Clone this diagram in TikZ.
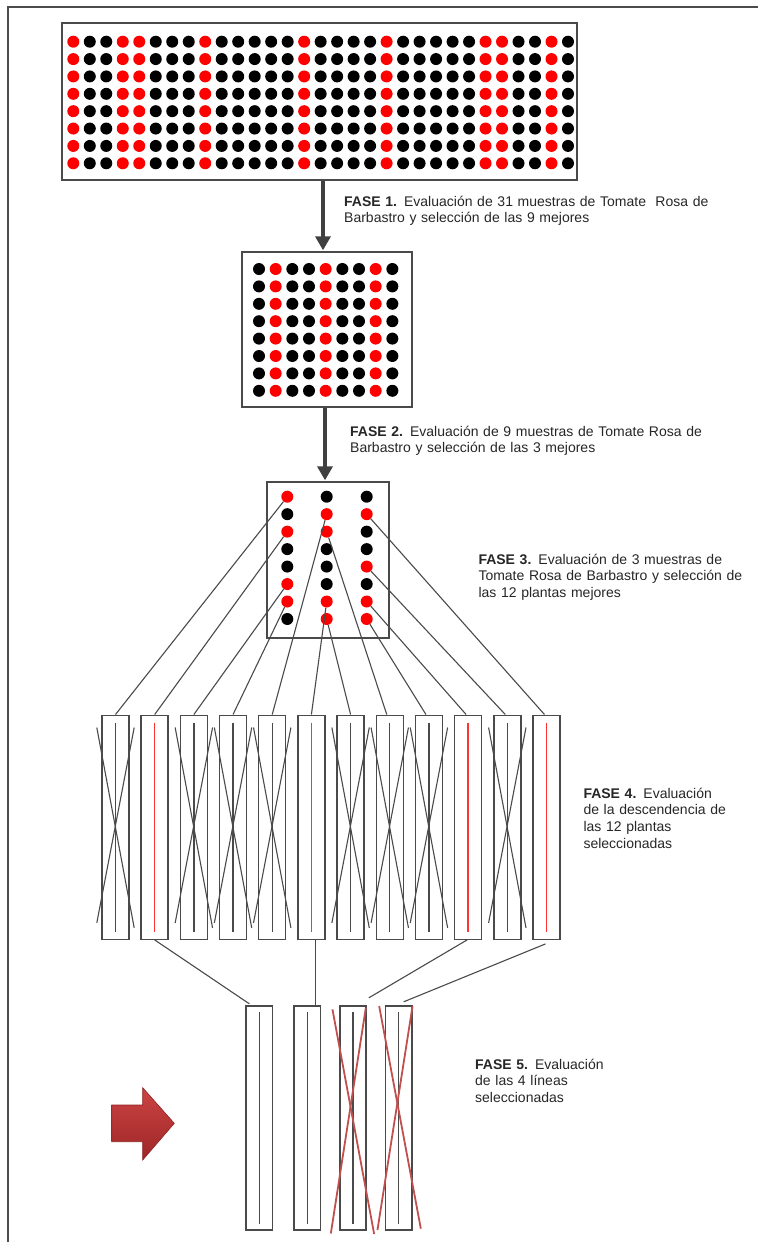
\documentclass[tikz,border=0pt]{standalone}
\usepackage{fontspec}
\setmainfont{Liberation Sans}
\usetikzlibrary{arrows.meta}
\definecolor{dotR}{HTML}{FF0000}
\definecolor{dotB}{HTML}{000000}
\definecolor{lineg}{HTML}{4A4A4A}
\definecolor{crossred}{HTML}{C0504D}
\definecolor{innerr}{HTML}{FF3333}
\definecolor{arrowtop}{HTML}{CC4444}
\definecolor{arrowbot}{HTML}{9E2626}
\definecolor{txt}{HTML}{262626}
\begin{document}
\begin{tikzpicture}[x=1pt,y=-1pt,
  dot/.style={circle,inner sep=0pt,minimum size=12pt},
  boxst/.style={draw=lineg,line width=1.4pt,inner sep=0pt,fill=none},
  strip/.style={draw=lineg,line width=1.4pt,inner sep=0pt,minimum width=27pt,minimum height=224pt},
  strip5/.style={draw=lineg,line width=1.4pt,inner sep=0pt,minimum width=26.3pt,minimum height=224pt},
  conn/.style={draw=lineg,line width=1.1pt},
  inner/.style={draw=lineg,line width=1.4pt},
  innerred/.style={draw=innerr,line width=1.4pt},
  xline/.style={draw=lineg,line width=1.1pt},
  xred/.style={draw=crossred,line width=1.8pt},
  bigarrow/.style={draw=black!75,line width=4pt,-{Triangle[width=15pt,length=14pt]}},
  label/.style={anchor=base west,inner sep=0pt,text width=420pt,align=left,font=\fontsize{14}{16.7}\selectfont,text=txt}
]
\useasboundingbox (0,0) rectangle (758,1242);
% page border
\draw[draw=black!70,line width=1.5pt] (8,1242) -- (8,7) -- (758,7);

% ---------- phase 1 grid ----------
\node[boxst,minimum width=515pt,minimum height=157pt] (box1) at (319.5,101.5) {};
\foreach \c [count=\i] in {R,B,B,R,R,B,B,B,R,B,B,B,B,B,R,B,B,B,B,R,B,B,B,B,B,R,R,B,B,R,B}
  \foreach \j in {1,...,8}
    \node[dot,fill=dot\c] (a\i-\j) at ({73.3+(\i-1)*16.49},{41.7+(\j-1)*17.37}) {};

% ---------- phase 2 grid ----------
\node[boxst,minimum width=170pt,minimum height=155pt] (box2) at (327,329.5) {};
\foreach \c [count=\i] in {B,R,B,B,R,B,B,R,B}
  \foreach \j in {1,...,8}
    \node[dot,fill=dot\c] (b\i-\j) at ({259+(\i-1)*16.67},{269+(\j-1)*17.4}) {};

% ---------- phase 3 ----------
\node[boxst,minimum width=122pt,minimum height=156pt] (box3) at (328,560) {};
\foreach \c [count=\j] in {R,B,R,B,B,R,R,B}
  \node[dot,fill=dot\c] (c1-\j) at (287.3,{496.7+(\j-1)*17.47}) {};
\foreach \c [count=\j] in {B,R,R,B,B,B,R,R}
  \node[dot,fill=dot\c] (c2-\j) at (326.7,{496.7+(\j-1)*17.47}) {};
\foreach \c [count=\j] in {B,R,B,B,R,B,R,R}
  \node[dot,fill=dot\c] (c3-\j) at (366.7,{496.7+(\j-1)*17.47}) {};

% phase arrows
\draw[bigarrow] ([shift={(3.5,0)}]box1.south) -- ([shift={(-4,-1)}]box2.north);
\draw[bigarrow] ([shift={(-2,0)}]box2.south) -- ([shift={(-3,-1)}]box3.north);

% ---------- phase 4 strips ----------
\foreach \i in {1,...,12}
  \node[strip] (r\i) at ({115.5+(\i-1)*39.18},827.2) {};
\foreach \i in {2,6,10,12}
  \draw[innerred] ([shift={(0,8)}]r\i.north) -- ([shift={(0,-8)}]r\i.south);
\foreach \i in {1,3,4,5,7,8,9,11}{
  \draw[inner] ([shift={(0,8)}]r\i.north) -- ([shift={(0,-8)}]r\i.south);
  \draw[xline] ([shift={(-4.5,13)}]r\i.north west) -- ([shift={(4.5,-12)}]r\i.south east);
  \draw[xline] ([shift={(4.5,13)}]r\i.north east) -- ([shift={(-4.5,-17)}]r\i.south west);
}

% connectors phase 3 -> phase 4
\draw[conn] (c1-1) -- (r1.north);
\draw[conn] (c1-3) -- (r2.north);
\draw[conn] (c1-6) -- (r3.north);
\draw[conn] (c1-7) -- (r4.north);
\draw[conn] (c2-2) -- (r5.north);
\draw[conn] (c2-7) -- (r6.north);
\draw[conn] (c2-8) -- (r7.north);
\draw[conn] (c2-3) -- ([shift={(-3,0)}]r8.north);
\draw[conn] (c3-8) -- ([shift={(-3,0)}]r9.north);
\draw[conn] (c3-7) -- ([shift={(-2,0)}]r10.north);
\draw[conn] (c3-5) -- ([shift={(-2,0)}]r11.north);
\draw[conn] (c3-2) -- ([shift={(-2,0)}]r12.north);

% ---------- phase 5 strips ----------
\foreach \i/\x in {1/259.2,2/307.2,3/353,4/398.7}{
  \node[strip5] (p\i) at (\x,1118) {};
  \draw[inner] ([shift={(0,7)}]p\i.north) -- ([shift={(0,-7)}]p\i.south);
}
\draw[xred] ([shift={(-6.7,4)}]p3.north west) -- ([shift={(7.3,3.3)}]p3.south east);
\draw[xred] ([shift={(-1,2.3)}]p3.north east) -- ([shift={(-8.3,2.7)}]p3.south west);
\draw[xred] ([shift={(-5.7,0.7)}]p4.north west) -- ([shift={(8.3,-2)}]p4.south east);
\draw[xred] ([shift={(0,0.7)}]p4.north east) -- ([shift={(-7.4,-0.7)}]p4.south west);

% connectors phase 4 -> phase 5
\draw[conn] (r2.south) -- ([shift={(4,-1.5)}]p1.north west);
\draw[conn] ([shift={(4,0)}]r6.south) -- ([shift={(4,0)}]r6.south |- p2.north);
\draw[conn] ([shift={(-1,0)}]r10.south) -- ([shift={(2,-7.5)}]p3.north east);
\draw[conn] ([shift={(-1,4)}]r12.south) -- ([shift={(5,-3.5)}]p4.north);

% ---------- red block arrow ----------
\path[top color=arrowtop,bottom color=arrowbot,draw=arrowbot!90!black,line width=0.6pt]
  (111.7,1105) -- (142.7,1105) -- (142.7,1087.7) -- (174.3,1123.3) -- (142.7,1160)
  -- (142.7,1141.7) -- (111.7,1141.7) -- cycle;

% ---------- labels ----------
\node[label] (t1) at (344,206) {\textbf{FASE 1.} Evaluación de 31 muestras de Tomate~ Rosa de\\Barbastro y selección de las 9 mejores};
\node[label] (t2) at (350,436) {\textbf{FASE 2.} Evaluación de 9 muestras de Tomate Rosa de\\Barbastro y selección de las 3 mejores};
\node[label] (t3) at (478.3,564) {\textbf{FASE 3.} Evaluación de 3 muestras de\\Tomate Rosa de Barbastro y selección de\\las 12 plantas mejores};
\node[label] (t4) at (583.3,798) {\textbf{FASE 4.} Evaluación\\de la descendencia de\\las 12 plantas\\seleccionadas};
\node[label] (t5) at (475,1069) {\textbf{FASE 5.} Evaluación\\de las 4 líneas\\seleccionadas};
\end{tikzpicture}
\end{document}
